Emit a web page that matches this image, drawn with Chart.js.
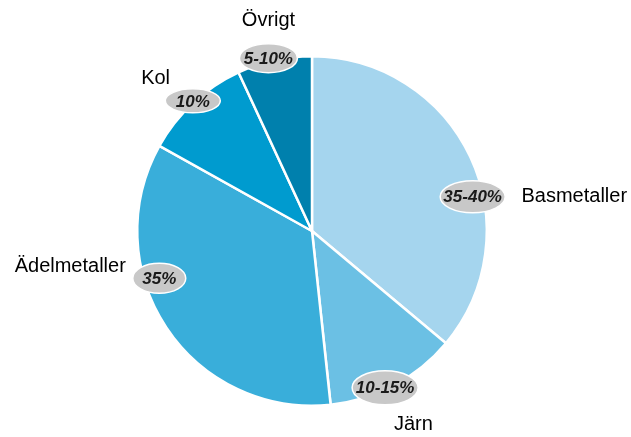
<!DOCTYPE html>
<html>
<head>
<meta charset="utf-8">
<script src="https://cdn.jsdelivr.net/npm/chart.js@4"></script>
<style>
html,body{margin:0;padding:0;background:#fff;}
#wrap{width:631px;height:437px;position:relative;}
</style>
</head>
<body>
<div id="wrap"><canvas id="c"></canvas></div>
<script>
const categories = ["Basmetaller", "Järn", "Ädelmetaller", "Kol", "Övrigt"];
const shares = [36.1, 12.2, 34.8, 10.0, 6.9];
const shareLabels = ["35-40%", "10-15%", "35%", "10%", "5-10%"];
const colors = ["#a5d5ee", "#6bc0e4", "#39aeda", "#009bcf", "#0080ad"];

// placement: fraction of the slice angle, radius factor for badge and for name text
const placement = [
  {bf:0.60, br:0.94, bw:65, bh:32, tx:"left",   tf:0.62, tr:1.215},
  {bf:0.57, br:0.99, bw:66, bh:34, tx:"center", tf:0.51, tr:1.25},
  {bf:0.63, br:0.915, bw:53, bh:30, tx:"right", tf:0.68, tr:1.085},
  {bf:0.51, br:1.01, bw:55, bh:24, tx:"center", tf:0.42, tr:1.25},
  {bf:0.43, br:1.02, bw:58, bh:29, tx:"center", tf:0.53, tr:1.23}
];

const labelPlugin = {
  id: 'badges',
  afterDatasetsDraw(chart) {
    const ctx = chart.ctx;
    const arcs = chart.getDatasetMeta(0).data;
    arcs.forEach((arc, i) => {
      const p = arc.getProps(['x','y','startAngle','endAngle','outerRadius'], true);
      const pl = placement[i];
      const a = p.startAngle + (p.endAngle - p.startAngle) * pl.bf;
      const bx = p.x + Math.cos(a) * p.outerRadius * pl.br;
      const by = p.y + Math.sin(a) * p.outerRadius * pl.br;
      ctx.save();
      ctx.beginPath();
      ctx.ellipse(bx, by, pl.bw/2, pl.bh/2, 0, 0, Math.PI*2);
      ctx.fillStyle = '#c8c8c8';
      ctx.fill();
      ctx.lineWidth = 1.5;
      ctx.strokeStyle = '#ffffff';
      ctx.stroke();
      ctx.fillStyle = '#1a1a1a';
      ctx.font = 'italic bold 17px "Liberation Sans", Arial, sans-serif';
      ctx.textAlign = 'center';
      ctx.textBaseline = 'middle';
      ctx.fillText(shareLabels[i], bx, by + 1);

      const ta = p.startAngle + (p.endAngle - p.startAngle) * pl.tf;
      const tx = p.x + Math.cos(ta) * p.outerRadius * pl.tr;
      const ty = p.y + Math.sin(ta) * p.outerRadius * pl.tr;
      ctx.font = '20px "Liberation Sans", Arial, sans-serif';
      ctx.fillStyle = '#000000';
      ctx.textAlign = pl.tx;
      ctx.fillText(categories[i], tx, ty);
      ctx.restore();
    });
  }
};

new Chart(document.getElementById('c'), {
  type: 'pie',
  data: {
    labels: categories,
    datasets: [{
      data: shares,
      backgroundColor: colors,
      borderColor: '#ffffff',
      borderWidth: 2.5,
      hoverOffset: 0
    }]
  },
  options: {
    responsive: true,
    maintainAspectRatio: false,
    animation: false,
    layout: { padding: { left: 136, right: 143, top: 55, bottom: 30 } },
    plugins: {
      legend: { display: false },
      tooltip: { enabled: false }
    }
  },
  plugins: [labelPlugin]
});
</script>
</body>
</html>
